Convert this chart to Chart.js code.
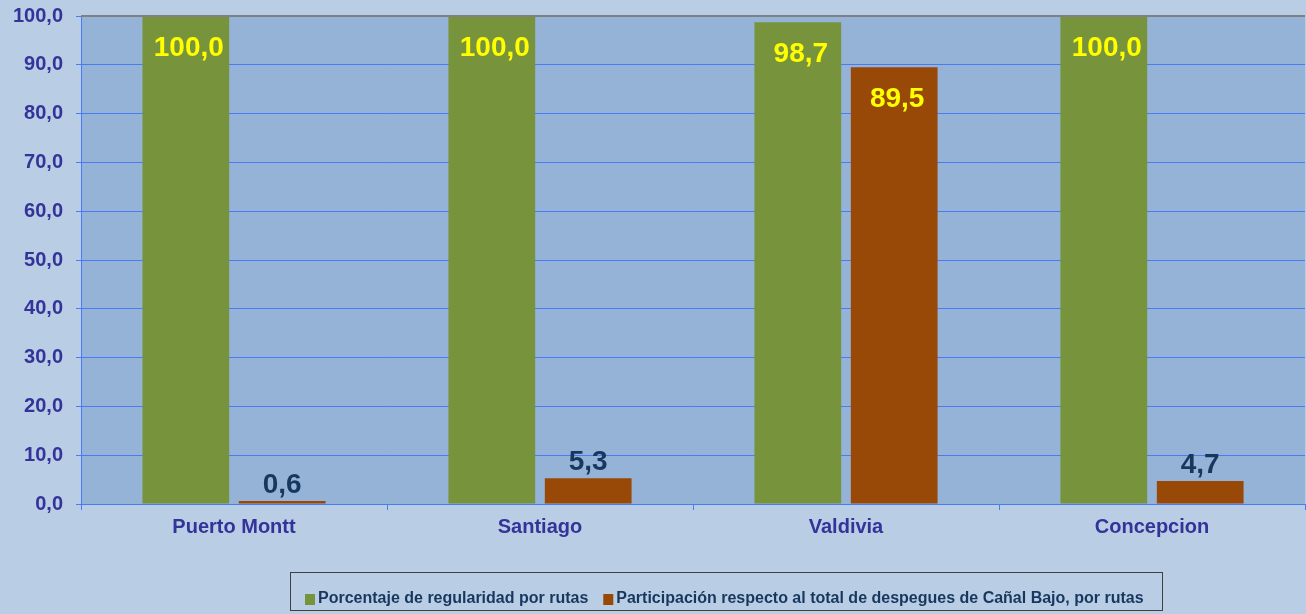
<!DOCTYPE html>
<html>
<head>
<meta charset="utf-8">
<script src="https://cdn.jsdelivr.net/npm/chart.js@4"></script>
<style>
  html, body { margin: 0; padding: 0; background: #B9CDE5; }
  #wrap { width: 1306px; height: 614px; position: relative; }
</style>
</head>
<body>
<div id="wrap"><canvas id="chart" width="1306" height="614"></canvas></div>
<script>
const routes = ["Puerto Montt", "Santiago", "Valdivia", "Concepcion"];
const regularidad = [100.0, 100.0, 98.7, 100.0];
const participacion = [0.6, 5.3, 89.5, 4.7];
const seriesNames = [
  "Porcentaje de regularidad por rutas",
  "Participación respecto al total de despegues de Cañal Bajo, por rutas"
];

const FONT = "Arial, 'Liberation Sans', sans-serif";
const fmt = v => v.toFixed(1).replace(".", ",");

// plot area background
const plotBg = {
  id: "plotBg",
  beforeDraw(chart) {
    const { ctx, chartArea: a } = chart;
    ctx.save();
    ctx.fillStyle = "#95B3D7";
    ctx.fillRect(a.left, a.top, a.right - a.left, a.bottom - a.top);
    ctx.restore();
  },
  afterDraw(chart) {
    const { ctx, chartArea: a } = chart;
    ctx.save();
    ctx.strokeStyle = "#808080";
    ctx.lineWidth = 2;
    ctx.beginPath();
    ctx.moveTo(a.left, a.top);
    ctx.lineTo(a.right, a.top);
    ctx.stroke();
    ctx.restore();
  }
};

// value labels on bars
const valueLabels = {
  id: "valueLabels",
  afterDatasetsDraw(chart) {
    const ctx = chart.ctx;
    ctx.save();
    ctx.font = "700 28px " + FONT;
    ctx.textAlign = "center";
    ctx.textBaseline = "middle";
    chart.data.datasets.forEach((ds, i) => {
      chart.getDatasetMeta(i).data.forEach((bar, j) => {
        const v = ds.data[j];
        if (v > 50) {
          ctx.fillStyle = "#FFFF00";
          ctx.fillText(fmt(v), bar.x + 3, bar.y + 32);
        } else {
          ctx.fillStyle = "#17375E";
          ctx.fillText(fmt(v), bar.x, bar.y - 16);
        }
      });
    });
    ctx.restore();
  }
};

// boxed legend at the bottom
const boxLegend = {
  id: "boxLegend",
  afterDraw(chart) {
    const ctx = chart.ctx;
    ctx.save();
    ctx.strokeStyle = "#404040";
    ctx.lineWidth = 1;
    ctx.strokeRect(290.5, 572.5, 872, 38);
    ctx.font = "700 16px " + FONT;
    ctx.textBaseline = "middle";
    let x = 305;
    const y = 599;
    chart.data.datasets.forEach(ds => {
      ctx.fillStyle = ds.backgroundColor;
      ctx.fillRect(x, y - 5, 10, 11);
      x += 13;
      ctx.fillStyle = "#17375E";
      ctx.fillText(ds.label, x, y);
      x += ctx.measureText(ds.label).width + 15;
    });
    ctx.restore();
  }
};

new Chart(document.getElementById("chart"), {
  type: "bar",
  data: {
    labels: routes,
    datasets: [
      { label: seriesNames[0], data: regularidad, backgroundColor: "#77933C" },
      { label: seriesNames[1], data: participacion, backgroundColor: "#984807" }
    ]
  },
  options: {
    responsive: false,
    animation: false,
    layout: { padding: { top: 16, right: 1, bottom: 60, left: 0 } },
    datasets: { bar: { barPercentage: 0.9, categoryPercentage: 0.63 } },
    plugins: { legend: { display: false }, tooltip: { enabled: false } },
    scales: {
      x: {
        afterFit: s => { s.height = 50; s.paddingLeft = 0; s.paddingRight = 0; },
        grid: { display: true, drawOnChartArea: false, color: "#4A7BF7", tickLength: 6, offset: true },
        border: { color: "#4A7BF7" },
        ticks: {
          color: "#333399",
          font: { family: FONT, size: 20, weight: 700 },
          padding: 5
        }
      },
      y: {
        min: 0,
        max: 100,
        afterFit: s => { s.width = 81; s.paddingTop = 0; s.paddingBottom = 0; },
        grid: { color: "#4A7BF7", tickLength: 5 },
        border: { color: "#4A7BF7" },
        ticks: {
          stepSize: 10,
          color: "#333399",
          font: { family: FONT, size: 20, weight: 700 },
          padding: 13,
          callback: v => fmt(v)
        }
      }
    }
  },
  plugins: [plotBg, valueLabels, boxLegend]
});
</script>
</body>
</html>
